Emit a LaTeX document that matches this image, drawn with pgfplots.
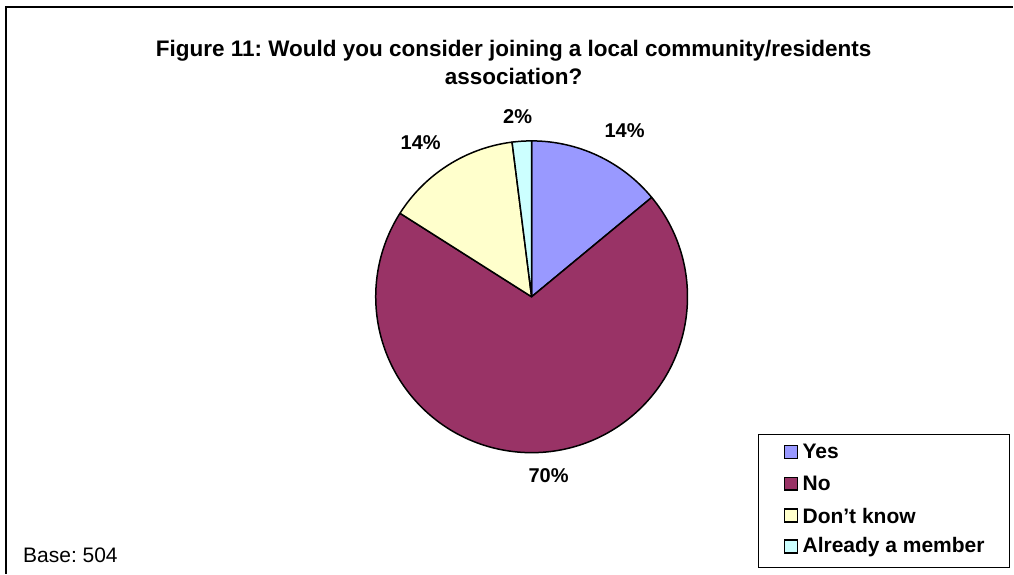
\documentclass[border=0pt]{standalone}
\usepackage{pgfplots}
\pgfplotsset{compat=1.18}
\usepackage{pgfplotstable}
\usepackage{fontspec}
\setmainfont{Liberation Sans}
\frenchspacing

\definecolor{cYes}{HTML}{9999FF}
\definecolor{cNo}{HTML}{993366}
\definecolor{cDK}{HTML}{FFFFCC}
\definecolor{cAM}{HTML}{CCFFFF}

% shares in percent, clockwise from 12 o'clock
\pgfplotstableread{
share
14
70
14
2
}\piedata

\begin{document}
\begin{tikzpicture}
\begin{axis}[
  at={(0,0)}, anchor=south west,
  scale only axis, width=1014bp, height=574bp,
  xmin=0, xmax=1014, ymin=0, ymax=574,
  hide axis, clip=false,
]
% page area (pixel grid, y up)
\path (axis cs:0,0) rectangle (axis cs:1014,574);

% outer frame (cut at right and bottom)
\draw[line width=1.5bp] (axis cs:6,0) -- (axis cs:6,567) -- (axis cs:1014,567);

% title
\node[anchor=base, font=\bfseries\fontsize{22.5bp}{26bp}\selectfont]
  at (axis cs:514,517) {Figure 11: Would you consider joining a local community/residents};
\node[anchor=base, font=\bfseries\fontsize{22.5bp}{26bp}\selectfont]
  at (axis cs:514,489) {association?};

% pie slices
\pgfmathsetmacro\start{90}
\foreach \i/\col in {0/cYes,1/cNo,2/cDK,3/cAM}{
  \pgfplotstablegetelem{\i}{share}\of\piedata
  \pgfmathsetmacro\stop{\start-3.6*\pgfplotsretval}
  \edef\temp{\noexpand\filldraw[fill=\col,draw=black,line width=1.5bp,line join=round]
    (axis cs:532,277) -- ++(\start:156bp) arc[start angle=\start,end angle=\stop,radius=156bp] -- cycle;}
  \temp
  \global\let\start\stop
}

% data labels
\begin{scope}[font=\bfseries\fontsize{20bp}{24bp}\selectfont]
\node at (axis cs:625,443) {14\%};
\node at (axis cs:549,98) {70\%};
\node at (axis cs:421,431) {14\%};
\node at (axis cs:518,457) {2\%};
\end{scope}

% legend
\draw[line width=1.5bp] (axis cs:759,6) rectangle (axis cs:1010,139);
\begin{scope}[font=\bfseries\fontsize{21bp}{24bp}\selectfont]
\foreach \y/\col/\txt in {122/cYes/Yes, 90/cNo/No, 58/cDK/Don’t know, 27/cAM/Already a member}{
  \edef\temp{\noexpand\filldraw[fill=\col,draw=black,line width=1.3bp]
    (axis cs:785,\y-6.5) rectangle (axis cs:798,\y+6.5);}
  \temp
  \edef\temp{\noexpand\node[anchor=west,inner sep=0pt] at (axis cs:803,\y) {\txt};}
  \temp
}
\end{scope}

% base note
\node[anchor=base west, inner sep=0pt, font=\fontsize{21bp}{24bp}\selectfont]
  at (axis cs:23,11) {Base: 504};
\end{axis}
\end{tikzpicture}
\end{document}
